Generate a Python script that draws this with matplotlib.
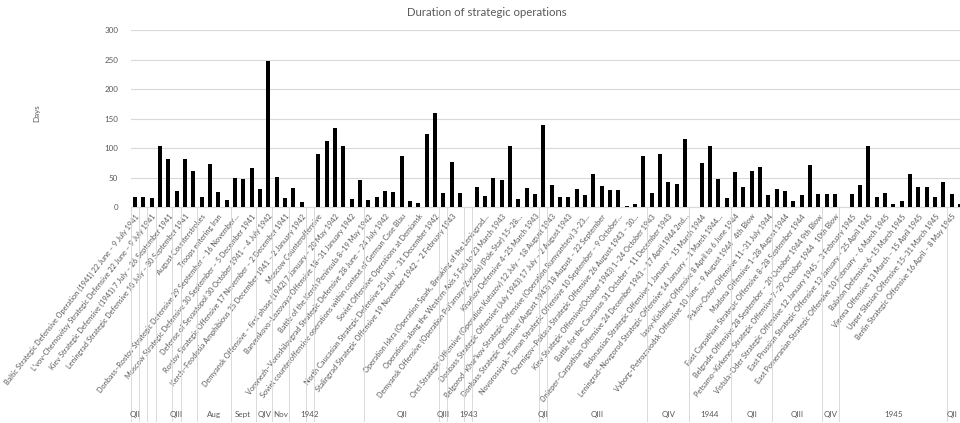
import numpy as np
import matplotlib.pyplot as plt

plt.rcParams['font.family'] = ['Lato', 'DejaVu Sans']

# Dauer jeder Operation in Tagen (in Reihenfolge der Tabelle)
days = [17, 17, 16, 103, 81, 28, 82, 62, 18, 73,
        26, 13, 49, 48, 67, 31, 248, 51, 16, 33,
        9, 0, 91, 113, 134, 103, 14, 47, 12, 17,
        27, 26, 87, 10, 7, 124, 160, 24, 76, 25,
        0, 34, 19, 49, 47, 103, 14, 33, 22, 140,
        38, 17, 17, 31, 21, 57, 36, 30, 30, 3,
        5, 86, 24, 90, 42, 39, 116, 0, 75, 104,
        48, 15, 60, 34, 61, 68, 21, 31, 28, 10,
        21, 72, 23, 23, 23, 0, 23, 38, 103, 17,
        25, 6, 10, 57, 34, 34, 17, 42, 23, 6]

# Excel zeigt nur jede zweite Beschriftung an
shown_labels = [
    "Baltic Strategic Defensive Operation (1941) 22 June – 9 July 1941",
    "L'vov-Chernovitsy Strategic Defensive 22 June – 9 July 1941",
    "Kiev Strategic Defensive (1941) 7 July – 26 September 1941",
    "Leningrad Strategic Defensive 10 July – 30 September 1941",
    "August Counterstrokes",
    "Troops entering Iran",
    "Donbass–Rostov Strategic Defensive 29 September – 16 November…",
    "Moscow Strategic Defensive 30 September – 5 December 1941",
    "Defense of Sevastopol 30 October 1941 – 4 July 1942",
    "Rostov Strategic Offensive 17 November – 2 December 1941",
    "Kerch–Feodosia Amphibious 25 December 1941 – 2 January 1942",
    "Moscow Counteroffensive",
    "Demyansk Offensive – first phase (1942) 7 January – 20 May 1942",
    "Barvenkovo–Lozovaya Offensive 18–31 January 1942",
    "Battle of the Kerch Peninsula 8–19 May 1942",
    "Voronezh–Voroshilovgrad Strategic Defensive 28 June – 24 July 1942",
    "Soviet counteroffensive operations within context of German Case Blau",
    "Soviet Offensive Operations at Demiansk",
    "North Caucasian Strategic Defensive 25 July – 31 December 1942",
    "Stalingrad Strategic Offensive 19 November 1942 – 2 February 1943",
    "",
    "Operation Iskra (Operation Spark, Breaking of the Leningrad…",
    "Operations along the Western Axis 5 Feb to 23 March 1943",
    "Demyansk Offensive (Operation Pol'arnaya Zvezda) (Pole Star) 15–28…",
    "Kharkov Defensive 4–25 March 1943",
    "Orel Strategic Offensive (Operation Kutuzov) 12 July – 18 August 1943",
    "Donbass Strategic Offensive (July 1943) 17 July – 2 August 1943",
    "Belgorod–Khar'kov Strategic Offensive (Operation Rumyantsev) 3–23…",
    "Donbass Strategic Offensive (August 1943) 18 August – 22 September",
    "Novorossiysk–Taman Strategic Offensive 10 September – 9 October…",
    "Chernigov–Poltava Strategic Offensive 26 August 1943 – 30…",
    "Kiev Strategic Offensive(October 1943) 1–24 October 1943",
    "Battle for the Caucasus 31 October – 11 December 1943",
    "Dnieper–Carpathian Offensive 24 December 1943 – 17 April 1944 2nd…",
    "Belorussian Strategic Offensive 1 January – 15 March 1944",
    "Leningrad–Novgorod Strategic Offensive 14 January – 1 March 1944…",
    "Iassy-Kishniev Offensive 8 April to 6 June 1944",
    "Vyborg–Petrozavodsk Offensive 10 June – 9 August 1944   4th Blow",
    "Pskov-Ostov Offensive 11–31 July 1944",
    "Madona Offensive 1–28 August 1944",
    "East Carpathian Strategic Offensive 8–28 September 1944",
    "Belgrade Offensive 28 September – 20 October 1944 9th Blow",
    "Petsamo–Kirkenes Strategic Offensive 7–29 October 1944   10th Blow",
    "Vistula–Oder Strategic Offensive 12 January 1945 – 3 February 1945",
    "East Prussian Strategic Offensive 13 January – 25 April 1945",
    "East Pomeranian Strategic Offensive 10 February – 6 March 1945",
    "Balaton Defensive 6–15 March 1945",
    "Vienna Offensive 13 March – 15 April 1945",
    "Upper Silesian Offensive 15–31 March 1945",
    "Berlin Strategic Offensive 16 April – 8 May 1945",
]

# zweite Achsenebene: Trennlinien und Gruppen (Start-/Endkategorie)
group_edges = [0, 1, 2, 3, 5, 6, 8, 12, 15, 17, 19, 21, 22, 28, 37, 38,
               40, 41, 49, 50, 62, 67, 72, 77, 83, 85, 98]
group_names = ["QII", "QIII", "Aug", "Sept", "QIV", "Nov", "1942", "QII", "QIII",
               "1943", "QII", "QIII", "QIV", "1944", "QII", "QIII", "QIV", "1945", "QII"]
group_spans = [(0, 1), (5, 6), (8, 12), (12, 15), (15, 17), (17, 19), (21, 22),
               (28, 37), (37, 38), (40, 41), (49, 50), (50, 62), (62, 67),
               (67, 72), (72, 77), (77, 83), (83, 85), (85, 98), (98, 99)]

grey = "#595959"
light = "#d9d9d9"

fig = plt.figure(figsize=(9.6, 4.23), dpi=100)
ax = fig.add_axes([130.8 / 960, 1 - 207.3 / 423, 833.3 / 960, 177.3 / 423])

x = np.arange(len(days))
ax.bar(x, days, width=0.5, color="black", zorder=3)

ax.set_xlim(-0.5, 99.5)
ax.set_ylim(0, 300)
ax.set_yticks(range(0, 301, 50))
ax.yaxis.grid(True, color=light, linewidth=0.8)
ax.set_axisbelow(True)
for s in ["top", "right", "left"]:
    ax.spines[s].set_visible(False)
ax.spines["bottom"].set_color(light)
ax.tick_params(axis="y", length=0, labelsize=5.8, labelcolor=grey, pad=9)

ax.set_xticks(x[::2])
ax.set_xticklabels(shown_labels, rotation=52, ha="right", va="top",
                   rotation_mode="anchor", fontsize=5.3, color=grey)
ax.tick_params(axis="x", length=0, pad=4)

# Gruppentrennlinien unterhalb der Achse
trans = ax.get_xaxis_transform()
for e in group_edges:
    ax.plot([e - 0.5, e - 0.5], [0, -1.205], transform=trans, color=light,
            linewidth=0.7, clip_on=False)
for name, (a, b) in zip(group_names, group_spans):
    ax.text((a + b) / 2 - 0.5, -1.17, name, transform=trans, ha="center",
            va="center", fontsize=5.8, color=grey, clip_on=False)

fig.text(487 / 960, 1 - 12 / 423, "Duration of strategic operations",
         ha="center", va="center", fontsize=8.2, color=grey)
fig.text(37 / 960, 1 - 113 / 423, "Days", rotation=90, ha="center",
         va="center", fontsize=5.8, color=grey)

fig.savefig("out.png", dpi=100)
